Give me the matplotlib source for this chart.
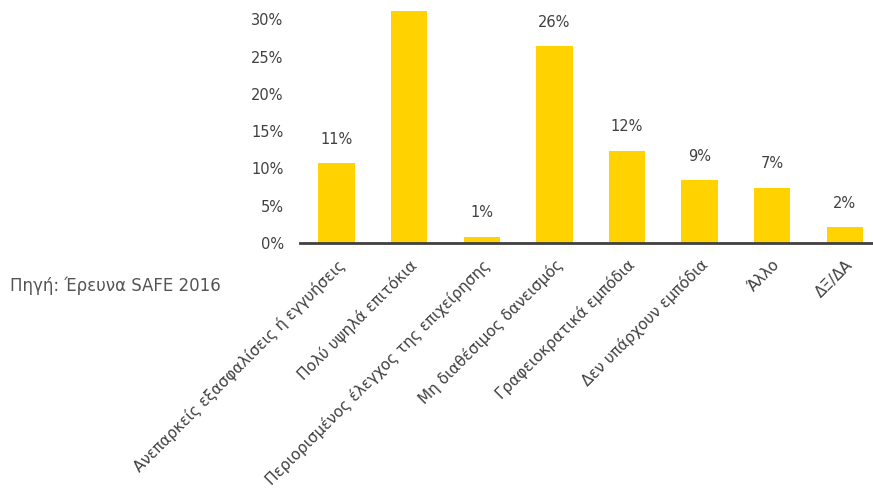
import numpy as np
import matplotlib.pyplot as plt

# reasons for not applying for a bank loan (survey shares, %)
categories = [
    "Ανεπαρκείς εξασφαλίσεις ή εγγυήσεις",
    "Πολύ υψηλά επιτόκια",
    "Περιορισμένος έλεγχος της επιχείρησης",
    "Μη διαθέσιμος δανεισμός",
    "Γραφειοκρατικά εμπόδια",
    "Δεν υπάρχουν εμπόδια",
    "Άλλο",
    "ΔΞ/ΔΑ",
]
values = [10.7, 31.1, 0.8, 26.4, 12.4, 8.4, 7.4, 2.1]
labels = ["11%", "31%", "1%", "26%", "12%", "9%", "7%", "2%"]
yticks = [0, 5, 10, 15, 20, 25, 30]

grey = "#404040"

fig = plt.figure(figsize=(8.73, 4.88), dpi=100)
ax = fig.add_axes([0.344, 0.502, 0.656, 0.498])

x = np.arange(len(categories))
ax.bar(x, values, width=0.5, color="#FFD200")

# value labels (the tallest bar's label falls outside the visible area)
for xi, v, lab in zip(x, values, labels):
    if v > 30:
        continue
    ax.annotate(lab, (xi, v), xytext=(0, 12), textcoords="offset points",
                ha="center", va="bottom", fontsize=10.5, color=grey)

ax.set_xlim(-0.5, 7.39)
ax.set_ylim(0, 32.6)
ax.set_yticks(yticks)
ax.set_yticklabels([f"{t}%" for t in yticks], fontsize=10.5, color=grey)
ax.set_xticks(x)
ax.set_xticklabels(categories, rotation=45, ha="right", rotation_mode="anchor",
                   fontsize=11, color=grey)
ax.tick_params(axis="both", length=0)
ax.tick_params(axis="y", pad=12)
ax.tick_params(axis="x", pad=10)

for s in ["top", "right", "left"]:
    ax.spines[s].set_visible(False)
ax.spines["bottom"].set_color(grey)
ax.spines["bottom"].set_linewidth(2)

fig.text(0.011, 0.415, "Πηγή: Έρευνα SAFE 2016", fontsize=12, color="#555555",
         va="center", ha="left")

fig.savefig("out.png", dpi=100)
